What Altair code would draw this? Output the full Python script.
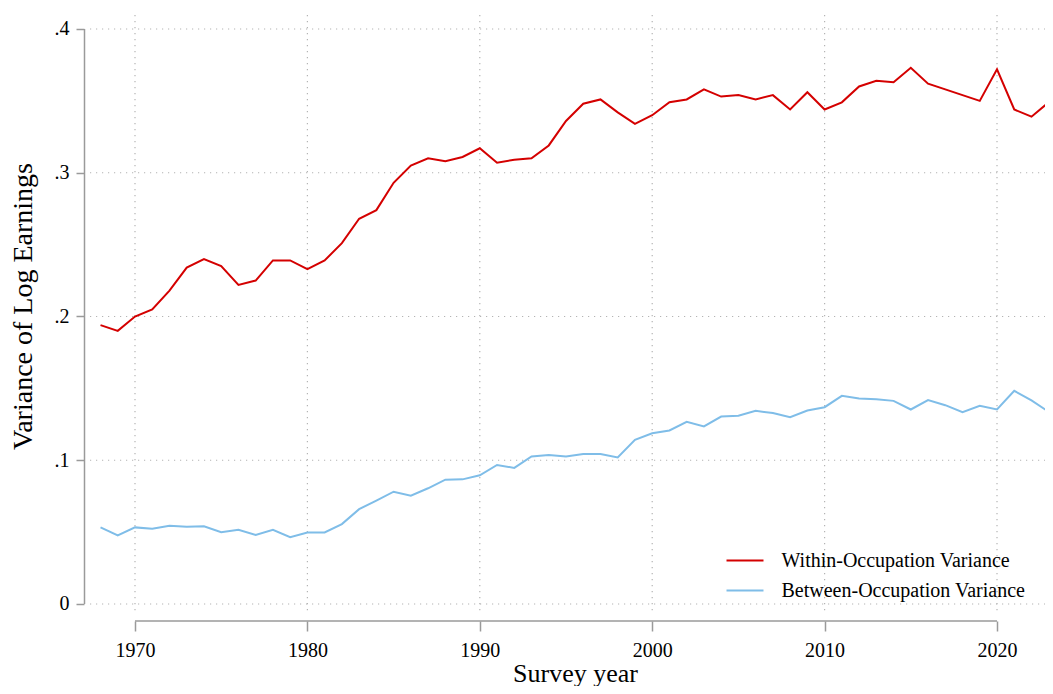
import altair as alt
import pandas as pd

years = list(range(1968, 2024))
within = [0.194, 0.190, 0.200, 0.205, 0.218, 0.234, 0.240, 0.235, 0.222, 0.225,
          0.239, 0.239, 0.233, 0.239, 0.251, 0.268, 0.274, 0.293, 0.305, 0.310,
          0.308, 0.311, 0.317, 0.307, 0.309, 0.310, 0.319, 0.336, 0.348, 0.351,
          0.342, 0.334, 0.340, 0.349, 0.351, 0.358, 0.353, 0.354, 0.351, 0.354,
          0.344, 0.356, 0.344, 0.349, 0.360, 0.364, 0.363, 0.373, 0.362, 0.358,
          0.354, 0.350, 0.372, 0.344, 0.339, 0.349]
between = [0.0533, 0.0477, 0.0533, 0.0523, 0.0544, 0.0537, 0.0540, 0.0500, 0.0516, 0.0481,
           0.0516, 0.0465, 0.0498, 0.0498, 0.0556, 0.0660, 0.0719, 0.0781, 0.0753, 0.0805,
           0.0865, 0.0867, 0.0895, 0.0967, 0.0947, 0.1026, 0.1037, 0.1026, 0.1044, 0.1044,
           0.1019, 0.1142, 0.1188, 0.1207, 0.1267, 0.1235, 0.1304, 0.1309, 0.1344, 0.1328,
           0.1300, 0.1346, 0.1369, 0.1448, 0.1430, 0.1425, 0.1413, 0.1353, 0.1418, 0.1383,
           0.1334, 0.1379, 0.1353, 0.1483, 0.1416, 0.1337]
series_names = ["Within-Occupation Variance", "Between-Occupation Variance"]
series_colors = ["#d40000", "#7fbde8"]
y_ticks = [0, 0.1, 0.2, 0.3, 0.4]
x_ticks = [1970, 1980, 1990, 2000, 2010, 2020]

df = pd.DataFrame({
    "year": years * 2,
    "value": within + between,
    "series": [series_names[0]] * len(years) + [series_names[1]] * len(years),
})

W, H = 957, 600
XDOM = [1967.2738, 2022.784]
YDOM = [-0.006957, 0.41043]
FONT = "Liberation Serif"
AXC = "#9a9a9a"

xscale = alt.Scale(domain=XDOM, nice=False, zero=False)
yscale = alt.Scale(domain=YDOM, nice=False, zero=False)
grid_style = dict(color="#b4b4b4", strokeWidth=1.2, strokeDash=[1.2, 4.8])

xaxis = alt.Axis(
    values=x_ticks, format="d", domain=False, grid=False, tickSize=10,
    tickColor=AXC, tickWidth=1.5, offset=7, labelFont=FONT, labelFontSize=20,
    labelColor="black", labelBaseline="alphabetic", labelPadding=25,
    labelFlush=False, labelOverlap=False,
    title="Survey year", titleFont=FONT, titleFontSize=26, titleFontWeight="normal",
    titleColor="black", titleX=487, titleY=60, titleBaseline="alphabetic",
    titleAlign="center")
yaxis = alt.Axis(
    values=y_ticks,
    labelExpr="datum.value == 0 ? '0' : replace(format(datum.value, '.1f'), '0.', '.')",
    domain=False, grid=False, tickSize=8, tickColor=AXC, tickWidth=1.5, offset=4,
    labelFont=FONT, labelFontSize=20, labelColor="black", labelPadding=7,
    labelFlush=False, labelOverlap=False,
    title="Variance of Log Earnings", titleFont=FONT, titleFontSize=28,
    titleFontWeight="normal", titleColor="black", titleX=-53, titleY=292,
    titleAngle=270, titleBaseline="alphabetic", titleAlign="center")

hgrid = alt.Chart(pd.DataFrame({"v": y_ticks})).mark_rule(**grid_style).encode(
    y=alt.Y("v:Q", scale=yscale, axis=yaxis), x=alt.value(2), x2=alt.value(W))
vgrid = alt.Chart(pd.DataFrame({"t": x_ticks})).mark_rule(**grid_style).encode(
    x=alt.X("t:Q", scale=xscale, axis=xaxis), y=alt.value(1), y2=alt.value(H))
yline = alt.Chart(pd.DataFrame({"a": [y_ticks[0]], "b": [y_ticks[-1]]})).mark_rule(
    color=AXC, strokeWidth=1.5).encode(
    x=alt.value(-3.5), y=alt.Y("a:Q", scale=yscale, axis=yaxis), y2="b:Q")
xline = alt.Chart(pd.DataFrame({"a": [x_ticks[0]], "b": [x_ticks[-1]]})).mark_rule(
    color=AXC, strokeWidth=1.5).encode(
    y=alt.value(607), x=alt.X("a:Q", scale=xscale, axis=xaxis), x2="b:Q")

lines = alt.Chart(df).mark_line(strokeWidth=2).encode(
    x=alt.X("year:Q", scale=xscale, axis=xaxis),
    y=alt.Y("value:Q", scale=yscale, axis=yaxis),
    color=alt.Color("series:N", scale=alt.Scale(domain=series_names, range=series_colors),
                    legend=alt.Legend(title=None, orient="none", legendX=646.5, legendY=536,
                                      symbolType="M-2,0L2,0", symbolSize=342,
                                      symbolStrokeWidth=2, labelFont=FONT, labelFontSize=20,
                                      labelColor="black", labelOffset=26, rowPadding=9,
                                      padding=0, labelLimit=0)),
)

chart = alt.layer(vgrid, hgrid, yline, xline, lines).properties(
    width=W, height=H,
    autosize=alt.AutoSizeParams(type="none"),
    padding={"left": 80, "top": 6, "right": 0, "bottom": 72},
    background="white",
).configure_view(stroke=None)

chart.save("out.html", embed_options={"renderer": "svg", "actions": False})
